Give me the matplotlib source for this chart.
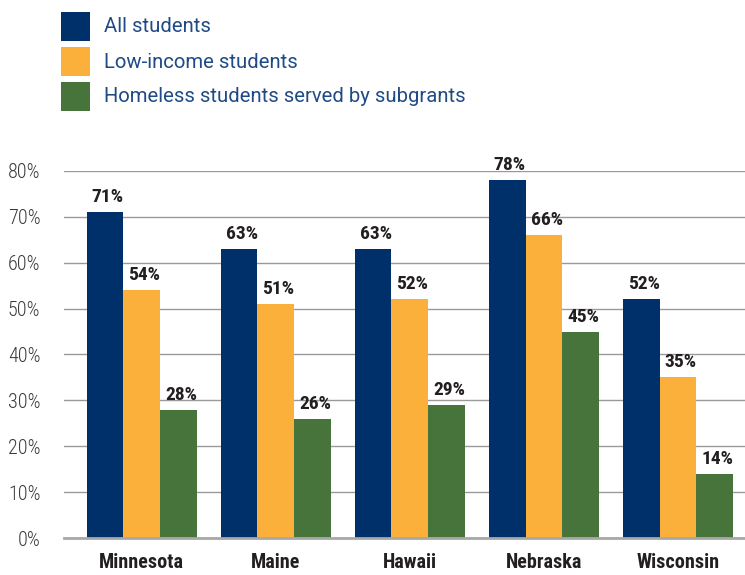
import matplotlib
matplotlib.use("Agg")
import matplotlib.pyplot as plt
import numpy as np
from matplotlib.patches import Rectangle

states = ["Minnesota", "Maine", "Hawaii", "Nebraska", "Wisconsin"]
series_names = ["All students", "Low-income students", "Homeless students served by subgrants"]
all_students = [71, 63, 63, 78, 52]
low_income = [54, 51, 52, 66, 35]
homeless = [28, 26, 29, 45, 14]
yticks = [0, 10, 20, 30, 40, 50, 60, 70, 80]
ytick_labels = ["0%", "10%", "20%", "30%", "40%", "50%", "60%", "70%", "80%"]
colors = ["#003069", "#FBB03B", "#46743B"]

cond = ["Roboto Condensed", "DejaVu Sans"]
legfont = ["Roboto", "DejaVu Sans"]

W, H = 745, 575
fig = plt.figure(figsize=(W/100, H/100), dpi=100)
ax = fig.add_axes([64/W, 1-538/H, 1-64/W, (538-171)/H])

x = np.arange(len(states))
w = 0.274
for i, (vals, c) in enumerate(zip([all_students, low_income, homeless], colors)):
    xs = x + (i-1)*w
    ax.bar(xs, vals, width=w, color=c, zorder=3, label=series_names[i])
    for xi, v in zip(xs, vals):
        ax.text(xi + 0.02, v+1.3, f"{v}%", ha="center", va="bottom", fontsize=14,
                fontweight="bold", family=cond, color="#231F20", zorder=4)

ax.set_xlim(-0.58, 4.5)
ax.set_ylim(0, 80)
ax.set_yticks(yticks)
ax.set_yticklabels(ytick_labels, family=cond, fontsize=14.5, fontweight="light", color="#3a3a3a")
ax.set_xticks(x)
ax.set_xticklabels(states, family=cond, fontsize=14.5, fontweight="bold", color="#231F20")
ax.tick_params(axis="y", length=0, pad=17)
ax.tick_params(axis="x", length=0, pad=11)
ax.yaxis.grid(True, color="#9a9a9a", linewidth=1.0, zorder=0)
ax.set_axisbelow(True)
for s in ["top", "right", "left"]:
    ax.spines[s].set_visible(False)
ax.spines["bottom"].set_color("#a8a8a8")
ax.spines["bottom"].set_linewidth(2.0)
ax.spines["bottom"].set_zorder(5)

# legend drawn in figure pixel coordinates
renderer = fig.canvas.get_renderer()
texts = []
for k, (name, c) in enumerate(zip(series_names, colors)):
    top = 12 + 35*k
    fig.add_artist(Rectangle((61/W, 1-(top+29)/H), 29/W, 29/H, transform=fig.transFigure,
                             facecolor=c, edgecolor="none"))
    t = fig.text(104/W, 1-(top+15)/H, name, ha="left", va="center", fontsize=13,
                 family=legfont, fontweight="normal", color="#1F4A85")
    texts.append(t)
# fit font size so the longest label spans ~361 px as in the reference
bb = texts[2].get_window_extent(renderer)
scale = 361 / bb.width
for t in texts:
    t.set_fontsize(13 * scale)

fig.savefig("out.png", dpi=100)
